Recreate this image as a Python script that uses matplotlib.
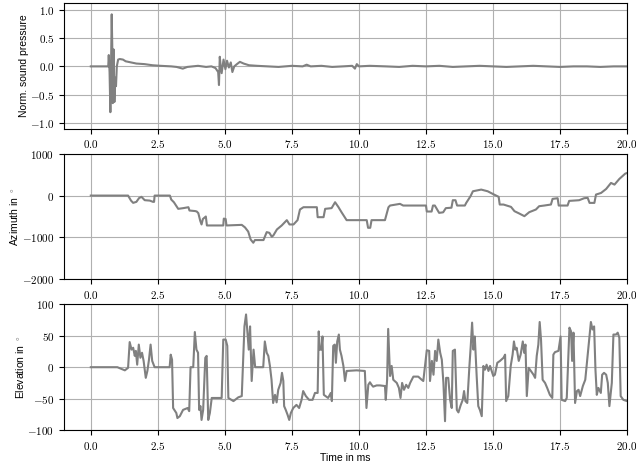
import matplotlib
matplotlib.use("Agg")
import matplotlib.pyplot as plt
from matplotlib.ticker import FuncFormatter

plt.rcParams['mathtext.fontset'] = 'cm'
plt.rcParams['font.family'] = ['Liberation Sans', 'DejaVu Sans']

# normalised sound pressure
time_p = [0, 0.65, 0.67, 0.70, 0.73, 0.76, 0.78, 0.80, 0.82, 0.85, 0.88, 0.91, 0.94, 0.97,
          1.02, 1.08, 1.2, 1.3, 1.5, 1.7, 2.0, 2.3, 2.6, 3.0, 3.2, 3.43, 3.6, 3.8, 4.0,
          4.3, 4.5, 4.65, 4.75, 4.78, 4.81, 4.84, 4.88, 4.95, 5.02, 5.08, 5.15, 5.22,
          5.28, 5.35, 5.45, 5.56, 5.7, 5.9, 6.2, 6.6, 7.0, 7.5, 7.9, 8.05, 8.2, 8.6,
          9.0, 9.4, 9.75, 9.85, 9.92, 10.0, 10.4, 11.0, 11.5, 12.0, 12.5, 13.0, 13.5,
          14.0, 14.5, 15.0, 15.5, 16.0, 16.5, 17.0, 17.5, 18.0, 18.5, 19.0, 19.5, 20.0]
pressure = [0, 0, 0.2, -0.1, -0.81, 0.2, 0.92, 0.38, -0.65, 0.3, -0.63, -0.2, -0.35, 0.0,
            0.12, 0.13, 0.12, 0.09, 0.07, 0.05, 0.04, 0.02, 0.01, 0.0, -0.01, -0.04, -0.01,
            0.0, 0.01, -0.01, 0.0, -0.03, -0.1, -0.33, 0.17, 0.02, -0.12, 0.12, -0.05, 0.1,
            -0.02, 0.07, -0.1, 0.0, 0.04, 0.08, 0.05, 0.02, 0.01, 0.0, -0.01, 0.01, 0.0,
            0.03, 0.0, 0.01, -0.01, 0.0, 0.01, -0.04, 0.04, 0.0, 0.01, 0.0, -0.01, 0.01,
            0.0, 0.01, -0.01, 0.0, 0.01, 0.0, -0.01, 0.0, 0.01, 0.0, -0.01, 0.0, 0.0,
            -0.01, 0.0, 0.0]

# azimuth in degrees
time_az = [0.0, 1.39, 1.5, 1.58, 1.7, 1.8, 1.89, 2.01, 2.2, 2.32, 2.36, 2.38, 2.95, 3.0,
           3.1, 3.26, 3.45, 3.64, 3.68, 3.89, 3.95, 4.01, 4.08, 4.13, 4.18, 4.29, 4.33,
           4.94, 4.96, 5.03, 5.06, 5.63, 5.75, 5.87, 5.96, 6.06, 6.12, 6.44, 6.56, 6.66,
           6.75, 6.81, 6.94, 7.12, 7.31, 7.41, 7.56, 7.71, 7.8, 7.93, 8.43, 8.46, 8.68,
           8.74, 8.98, 9.11, 9.23, 9.35, 9.54, 10.29, 10.34, 10.42, 10.47, 10.97, 11.1,
           11.16, 11.53, 11.65, 12.5, 12.53, 12.71, 12.76, 12.83, 12.99, 13.14, 13.24,
           13.45, 13.5, 13.6, 13.66, 13.95, 14.0, 14.16, 14.25, 14.56, 14.8, 14.99, 15.21,
           15.25, 15.39, 15.67, 15.8, 15.98, 16.17, 16.35, 16.6, 16.72, 16.91, 17.16,
           17.22, 17.41, 17.45, 17.78, 17.84, 18.21, 18.4, 18.53, 18.6, 18.78, 18.84,
           19.03, 19.22, 19.4, 19.53, 19.71, 19.93, 20.0]
azimuth = [0, 0, -120, -174, -150, -60, -30, -110, -120, -150, -150, 0, 0, -95,
           -160, -317, -300, -278, -357, -370, -380, -420, -600, -690, -560, -500, -714,
           -714, -550, -560, -714, -700, -760, -860, -1048, -1127, -1063, -1063, -873, -890,
           -984, -950, -810, -714, -587, -690, -690, -587, -333, -278, -278, -516, -516,
           -317, -300, -159, -270, -397, -587, -587, -770, -770, -587, -587, -280,
           -238, -198, -238, -238, -381, -381, -238, -238, -413, -400, -300,
           -290, -111, -111, -238, -238, -175, -16, 103, 143, 103, 40, -30,
           -214, -214, -270, -373, -429, -492, -397, -333, -254, -238, -214,
           -79, -63, -238, -238, -127, -111, -63, -55, -175, -175, 24,
           63, 159, 302, 262, 397, 524, 540]

# elevation in degrees
time_el = [0, 0.99, 1.1, 1.27, 1.39, 1.45, 1.52, 1.58, 1.64, 1.68, 1.73, 1.79, 1.85, 1.91,
           1.97, 2.05, 2.11, 2.17, 2.23, 2.29, 2.38, 2.94, 2.98, 3.03, 3.07, 3.19, 3.23,
           3.32, 3.44, 3.61, 3.67, 3.72, 3.82, 3.88, 3.94, 4.0, 4.04, 4.09, 4.13, 4.19,
           4.27, 4.32, 4.38, 4.44, 4.51, 4.88, 4.94, 5.03, 5.09, 5.13, 5.32, 5.5, 5.63,
           5.73, 5.79, 5.84, 5.89, 5.94, 6.0, 6.07, 6.13, 6.43, 6.49, 6.56, 6.62, 6.68,
           6.74, 6.8, 6.87, 6.93, 6.99, 7.08, 7.13, 7.18, 7.21, 7.27, 7.34, 7.4, 7.46,
           7.55, 7.67, 7.77, 7.86, 7.92, 8.02, 8.14, 8.27, 8.36, 8.46, 8.5, 8.54, 8.6,
           8.64, 8.69, 8.85, 8.95, 8.99, 9.04, 9.1, 9.14, 9.19, 9.25, 9.29, 9.35, 9.42,
           9.48, 9.54, 9.91, 10.22, 10.28, 10.35, 10.41, 10.47, 10.53, 10.66, 10.78, 10.97,
           11.0, 11.05, 11.09, 11.16, 11.22, 11.28, 11.41, 11.49, 11.55, 11.61, 11.68,
           11.76, 11.84, 11.91, 12.03, 12.21, 12.34, 12.4, 12.53, 12.62, 12.65, 12.72,
           12.78, 12.84, 12.9, 12.96, 13.03, 13.09, 13.15, 13.21, 13.25, 13.33, 13.4,
           13.46, 13.5, 13.58, 13.65, 13.71, 13.79, 13.87, 13.92, 13.97, 14.04, 14.12,
           14.17, 14.22, 14.27, 14.32, 14.39, 14.45, 14.51, 14.58, 14.64, 14.7, 14.76,
           14.83, 14.89, 14.95, 15.01, 15.07, 15.16, 15.26, 15.39, 15.45, 15.49, 15.57,
           15.66, 15.73, 15.78, 15.83, 15.88, 15.96, 16.03, 16.11, 16.16, 16.21, 16.26,
           16.33, 16.41, 16.51, 16.57, 16.63, 16.69, 16.74, 16.79, 16.85, 16.94, 17.02,
           17.12, 17.21, 17.25, 17.31, 17.44, 17.52, 17.56, 17.69, 17.75, 17.85, 17.91,
           17.95, 18.0, 18.06, 18.13, 18.19, 18.25, 18.35, 18.44, 18.52, 18.59, 18.65,
           18.71, 18.77, 18.82, 18.87, 18.93, 19.02, 19.07, 19.14, 19.22, 19.28, 19.34,
           19.43, 19.49, 19.59, 19.65, 19.71, 19.76, 19.86, 20.0]
elevation = [0, 0, -2, -5, -1, 40, 28, 31, 18, 26, 4, 36, 15, 23,
             10, -17, -6, 12, 36, 10, 0, 0, 20, 12, -65, -73, -81,
             -78, -68, -65, -70, 0, 0, 56, 28, 23, -68, -62, -84, -68,
             15, 18, -84, -73, -49, -49, 44, 44, 34, -49, -54, -48, -46,
             65, 84, 57, 28, 65, -22, 28, 0, 0, 41, 23, 18, 2,
             -20, -57, -44, -56, -36, -25, -9, -22, -62, -68, -76, -84, -73,
             -65, -60, -65, -52, -38, -46, -52, -52, -41, -41, 57, 28, 28,
             49, -44, -49, -41, -54, 34, 36, 7, 41, 52, 28, 18, 2,
             -22, -6, -5, -6, -65, -28, -24, -28, -31, -29, -29, -30,
             -52, -20, 61, -14, 2, -20, -25, -33, -49, -25, -36,
             -28, -33, -25, -15, -15, -20, -22, 27, 26, -22, 10,
             -12, 26, 10, 44, 23, 12, -25, -86, -17, -17, -52,
             -65, 26, 28, -68, -72, -61, -52, -38, -54, -57, 2,
             34, 71, 28, 49, -14, -62, -68, -78, 2, -4, 4,
             -6, 2, -6, -14, -12, 7, 10, 15, 20, -54, -46,
             2, 20, 41, 28, 31, 10, 20, 41, 23, 36, -46,
             -1, -6, -12, -17, 18, 36, 72, 44, -20, -25, -33,
             -44, -49, 20, 24, 26, 49, -52, -54, -49, 63, 57,
             10, 55, -57, -38, -36, -46, -30, -20, 15, 44, 72,
             60, 65, -4, -44, -33, -41, -12, -9, -12, -25, -62,
             -25, 52, 52, 55, 47, -46, -52, -54]

x_ticks = [0.0, 2.5, 5.0, 7.5, 10.0, 12.5, 15.0, 17.5, 20.0]
line_color = '#808080'

fig, axes = plt.subplots(3, 1, figsize=(6.36, 4.65), dpi=100)
fig.subplots_adjust(left=0.1006, right=0.986, top=0.9935, bottom=0.0753, hspace=0.2)

panels = [
    (time_p, pressure, 'Norm. sound pressure', (-1.1, 1.12), [-1.0, -0.5, 0.0, 0.5, 1.0], '%.1f'),
    (time_az, azimuth, r'Azimuth in $^\circ$', (-2000, 1000), [-2000, -1000, 0, 1000], '%d'),
    (time_el, elevation, r'Elevation in $^\circ$', (-100, 100), [-100, -50, 0, 50, 100], '%d'),
]

for ax, (t, v, label, ylim, yticks, fmt) in zip(axes, panels):
    ax.plot(t, v, color=line_color, lw=1.5)
    ax.set_xlim(-1, 20)
    ax.set_ylim(*ylim)
    ax.set_xticks(x_ticks)
    ax.set_yticks(yticks)
    ax.xaxis.set_major_formatter(FuncFormatter(lambda x, p: r'$%.1f$' % x))
    ax.yaxis.set_major_formatter(FuncFormatter(lambda y, p, f=fmt: '$' + (f % y) + '$'))
    ax.tick_params(labelsize=8)
    ax.grid(True, color='#b0b0b0', lw=0.8)
    ax.set_ylabel(label, fontsize=7.5, labelpad=1)

axes[2].set_xlabel('Time in ms', fontsize=7.5, labelpad=1)

fig.savefig('out.png', dpi=100)
